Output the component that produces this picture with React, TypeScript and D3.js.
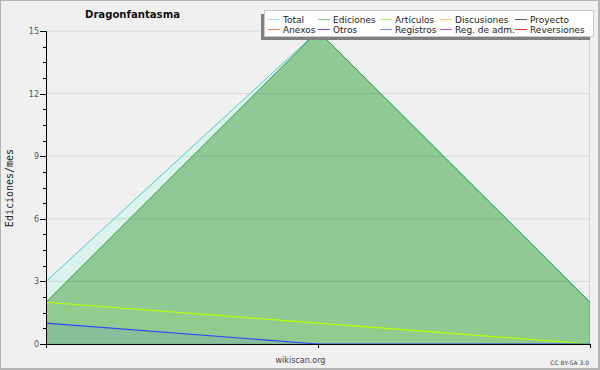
import React from "react";
import * as d3 from "d3";

const categories = ["2023-01", "2023-02", "2023-03"];
const total = [3, 15, 2];
const edits = [2, 15, 2];
const articles = [2, 1, 0];
const registros = [1, 0, 0];
const yTicks = [0, 3, 6, 9, 12, 15];
const legendItems = [
  ["Total", "#a0e0e0"], ["Ediciones", "#80c880"], ["Artículos", "#c0f060"], ["Discusiones", "#f0d060"], ["Proyecto", "#606060"],
  ["Anexos", "#f08050"], ["Otros", "#8040e0"], ["Registros", "#7090f0"], ["Reg. de adm.", "#c050e0"], ["Reversiones", "#e03030"],
];
const legendCols = [268, 318, 380, 440, 515];

export default function App() {
  const W = 600, H = 370;
  const x = d3.scalePoint<string>().domain(categories).range([46, 590]);
  const y = d3.scaleLinear().domain([0, 15]).range([344, 31]);
  const area = (vals: number[]) =>
    d3.area<number>().x((_, i) => x(categories[i])!).y0(y(0)).y1((d) => y(d))(vals) || "";
  const line = (vals: number[]) =>
    d3.line<number>().x((_, i) => x(categories[i])!).y((d) => y(d))(vals) || "";
  const minor = d3.range(0, 15.001, 0.75);
  return (
    <svg width={W} height={H} style={{ position: "absolute", left: 0, top: 0 }} fontFamily="DejaVu Sans">
      <rect x={0} y={0} width={W} height={H} fill="#b4b4b4" />
      <rect x={1} y={1} width={597} height={367} fill="#f0f0f0" />
      <path d={area(total)} fill="#dcf2ec" />
      <path d={area(edits)} fill="#8fca94" />
      <path d={area(articles)} fill="#c0ff00" fillOpacity={0.04} />
      <path d={area(registros)} fill="#4060ff" fillOpacity={0.12} />
      {yTicks.map((t) => (
        <line key={t} x1={46} x2={590} y1={y(t)} y2={y(t)} stroke="#000" strokeOpacity={0.1} />
      ))}
      <line x1={589.5} x2={589.5} y1={31} y2={344} stroke="#000" strokeOpacity={0.12} />
      <path d={line(total)} fill="none" stroke="#40d2d2" strokeWidth={1} />
      <path d={line(edits)} fill="none" stroke="#3a9e3a" strokeWidth={1} />
      <path d={line(articles)} fill="none" stroke="#b8ff00" strokeWidth={1.2} />
      <path d={line(registros)} fill="none" stroke="#2848ff" strokeWidth={1.2} />
      {/* axes */}
      <line x1={46.5} x2={46.5} y1={31} y2={348} stroke="#000" />
      <line x1={46} x2={590.5} y1={344.5} y2={344.5} stroke="#000" />
      {categories.map((c) => (
        <line key={c} x1={Math.round(x(c)!) + 0.5} x2={Math.round(x(c)!) + 0.5} y1={344} y2={348} stroke="#000" />
      ))}
      {minor.map((m) => (
        <line key={m} x1={43} x2={46} y1={Math.round(y(m)) + 0.5} y2={Math.round(y(m)) + 0.5} stroke="#000" />
      ))}
      {yTicks.map((t) => (
        <g key={t}>
          <line x1={40} x2={46} y1={Math.round(y(t)) + 0.5} y2={Math.round(y(t)) + 0.5} stroke="#000" />
          <text x={39} y={y(t) + 3} textAnchor="end" fontSize={8} fill="#555">{t}</text>
        </g>
      ))}
      <text transform="translate(13,188) rotate(-90)" textAnchor="middle" fontFamily="DejaVu Sans Mono" fontSize={10} fill="#222">Ediciones/mes</text>
      <text x={132.5} y={18} textAnchor="middle" fontSize={11} fontWeight="bold" fill="#111" textLength={95} lengthAdjust="spacingAndGlyphs">Dragonfantasma</text>
      <text x={300.5} y={363} textAnchor="middle" fontSize={8} fill="#444">wikiscan.org</text>
      <text x={589} y={365} textAnchor="end" fontSize={6} fill="#444">CC BY-SA 3.0</text>
      {/* legend */}
      <rect x={261} y={14} width={329} height={26} fill="#808080" />
      <rect x={264.5} y={10.5} width={329} height={26} fill="#fff" stroke="#c8c8c8" />
      {legendItems.map(([name, color], i) => {
        const col = i % 5, row = Math.floor(i / 5);
        const lx = legendCols[col];
        const ly = 19.5 + row * 10;
        return (
          <g key={name}>
            <line x1={lx} x2={lx + 12} y1={ly} y2={ly} stroke={color} />
            <text x={lx + 15} y={23 + row * 10} fontSize={9} fill="#222">{name}</text>
          </g>
        );
      })}
    </svg>
  );
}
